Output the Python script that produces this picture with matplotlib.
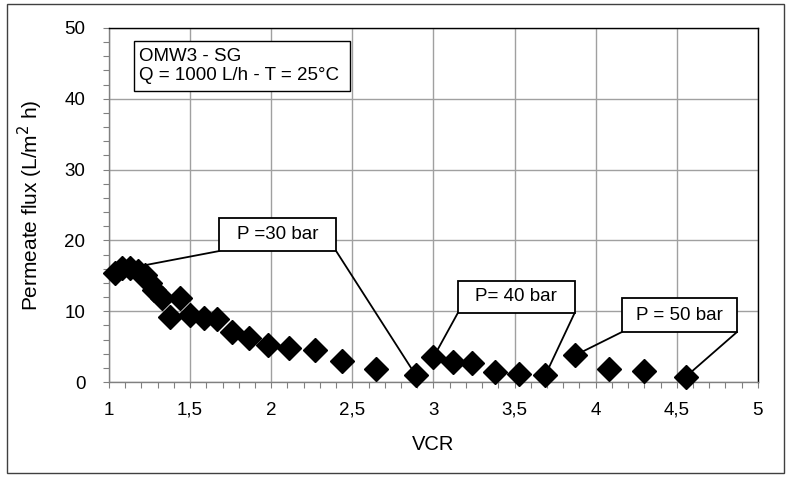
import numpy as np
import matplotlib
matplotlib.use("Agg")
import matplotlib.pyplot as plt
import matplotlib.patches as patches
from matplotlib.ticker import MultipleLocator, FuncFormatter

plt.rcParams['font.family'] = ['Liberation Sans', 'DejaVu Sans']

# data
vcr = [1.04, 1.08, 1.13, 1.18, 1.22, 1.25, 1.28, 1.325, 1.376, 1.437,
       1.50, 1.585, 1.667, 1.76, 1.86, 1.98, 2.11, 2.27, 2.435, 2.645,
       2.89, 3.00, 3.12, 3.24, 3.38, 3.53, 3.69, 3.875, 4.08, 4.30, 4.555]
flux = [15.4, 16.1, 16.1, 15.7, 15.1, 14.0, 13.0, 11.8, 9.2, 11.8,
        9.5, 9.0, 8.9, 7.1, 6.2, 5.3, 4.8, 4.5, 3.0, 1.8,
        1.0, 3.5, 2.9, 2.7, 1.45, 1.1, 1.0, 3.8, 1.8, 1.6, 0.75]

# callouts: label, box (x0, y0, x1, y1), indices of the first and last point of the pressure step
callout_labels = ["P =30 bar", "P= 40 bar", "P = 50 bar"]
callout_boxes = [(1.68, 18.5, 2.40, 23.2), (3.15, 9.75, 3.87, 14.3), (4.16, 7.05, 4.87, 11.85)]
callout_points = [(2, 20), (21, 26), (27, 30)]

fig = plt.figure(figsize=(7.92, 4.8), dpi=100)
ax = fig.add_axes([0.1376, 0.204, 0.8194, 0.738])

# outer frame around the whole chart
fig.patches.append(patches.Rectangle((7 / 792, 7 / 480), 777 / 792, 469 / 480,
                                     transform=fig.transFigure, fill=False,
                                     ec='#404040', lw=1.0))

ax.set_xlim(1, 5)
ax.set_ylim(0, 50)
ax.xaxis.set_major_locator(MultipleLocator(0.5))
ax.xaxis.set_minor_locator(MultipleLocator(0.1))
ax.yaxis.set_major_locator(MultipleLocator(10))
ax.yaxis.set_minor_locator(MultipleLocator(2))
ax.xaxis.set_major_formatter(FuncFormatter(lambda v, p: ('%g' % v).replace('.', ',')))
ax.tick_params(which='both', direction='out', length=4, width=0.8, color='#808080',
               labelsize=13.5)
ax.tick_params(axis='x', pad=10)
ax.tick_params(axis='y', pad=13)
ax.grid(True, which='major', color='#a0a0a0', lw=1.0)
ax.set_axisbelow(True)
for s in ax.spines.values():
    s.set_color('black')
    s.set_linewidth(1.0)
ax.spines['left'].set_color('#808080')
ax.spines['bottom'].set_color('#808080')

ax.set_xlabel("VCR", fontsize=14.5, labelpad=12)
ax.set_ylabel("Permeate flux (L/m$^2$ h)", fontsize=15, labelpad=14)

ax.plot(vcr, flux, ls='none', marker='D', ms=12, color='black', zorder=5, clip_on=False)

for label, (x0, y0, x1, y1), (i, j) in zip(callout_labels, callout_boxes, callout_points):
    ax.plot([x0, vcr[i]], [y0, flux[i]], color='black', lw=1.3, zorder=3)
    ax.plot([x1, vcr[j]], [y0, flux[j]], color='black', lw=1.3, zorder=3)
    ax.add_patch(patches.Rectangle((x0, y0), x1 - x0, y1 - y0, fc='white',
                                   ec='black', lw=1.3, zorder=4))
    ax.text((x0 + x1) / 2, (y0 + y1) / 2, label, ha='center', va='center',
            fontsize=13.5, zorder=6)

# condition box
ax.add_patch(patches.Rectangle((1.154, 41.1), 1.33, 7.1, fc='white', ec='black',
                               lw=1.0, zorder=4))
ax.text(1.185, 44.6, "OMW3 - SG\nQ = 1000 L/h - T = 25\u00b0C", ha='left', va='center',
        fontsize=13.5, linespacing=1.1, zorder=6)

fig.savefig("out.png", dpi=100)
